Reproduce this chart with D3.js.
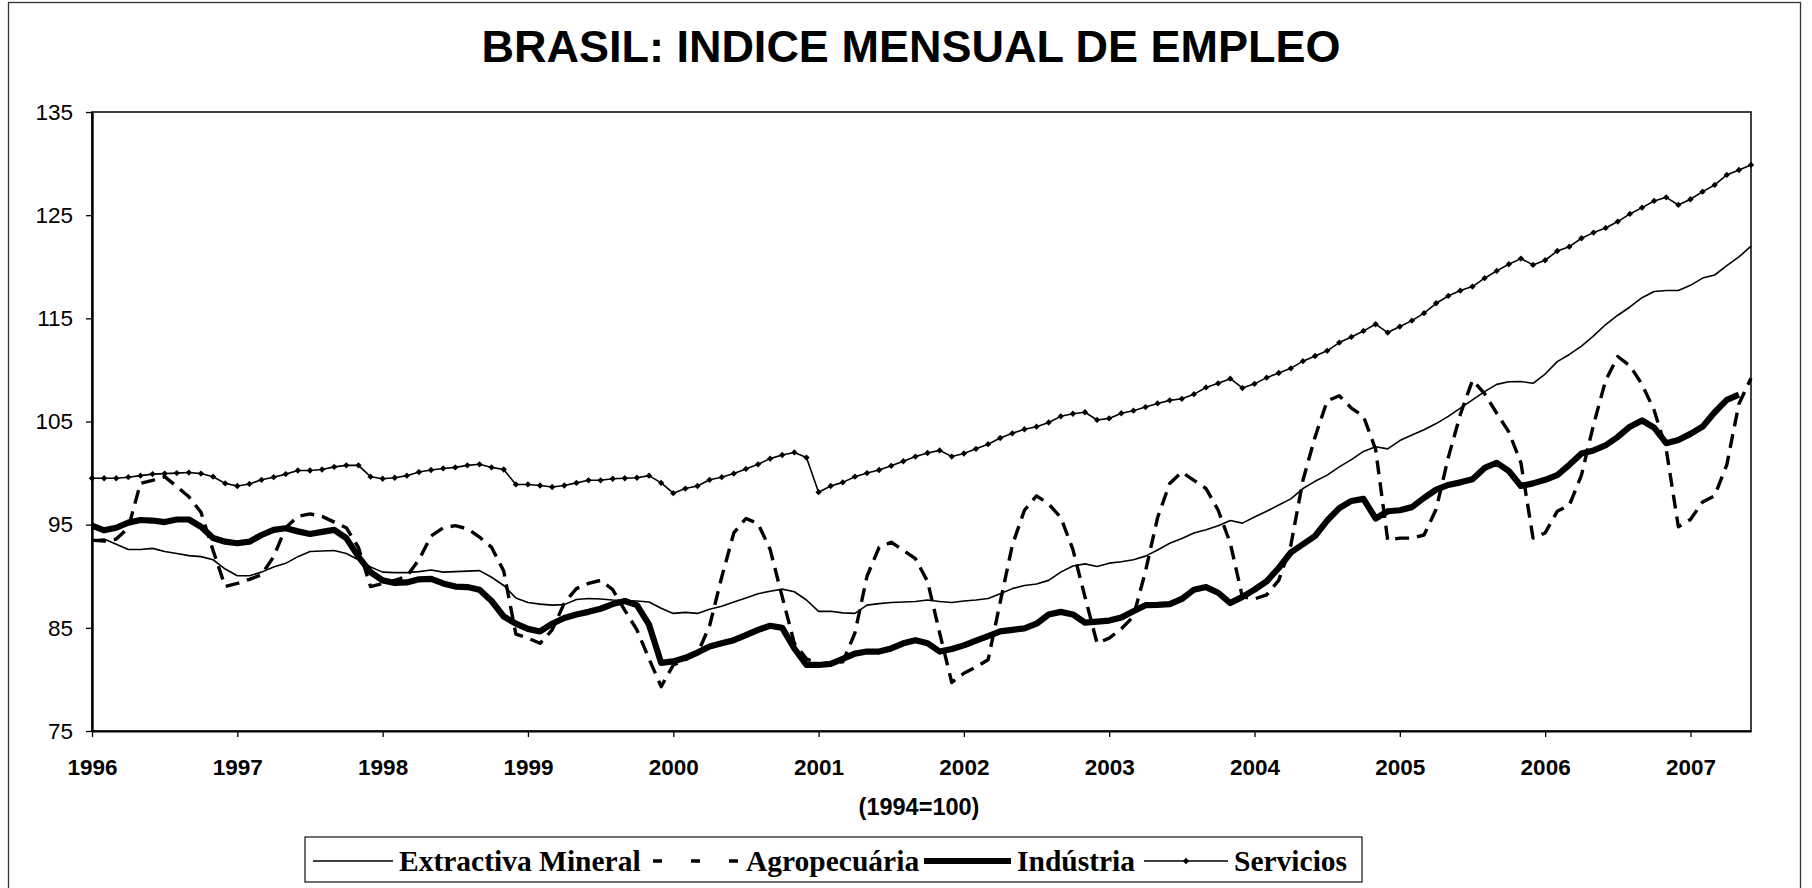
<!DOCTYPE html>
<html>
<head>
<meta charset="utf-8">
<script src="https://cdn.jsdelivr.net/npm/d3@7"></script>
<style>
  html, body { margin: 0; padding: 0; background: #fff; }
  svg { display: block; }
</style>
</head>
<body>
<svg id="chart" width="1812" height="888"></svg>
<script>
// ---------------- DATA (monthly, Jan 1996 - Jun 2007) ----------------
const titleText = "BRASIL: INDICE MENSUAL DE EMPLEO";
const subtitleText = "(1994=100)";
const yearLabels = ["1996","1997","1998","1999","2000","2001","2002","2003","2004","2005","2006","2007"];
const yTicks = [75, 85, 95, 105, 115, 125, 135];
const seriesNames = ["Extractiva Mineral", "Agropecuária", "Indústria", "Servicios"];

const extractiva = [
  93.5, 93.6, 93.1, 92.6, 92.6, 92.7, 92.4, 92.2, 92.0, 91.9, 91.6, 90.7,
  90.05, 90.05, 90.4, 90.9, 91.25, 91.9, 92.4, 92.45, 92.5, 92.2, 91.6, 90.9,
  90.4, 90.35, 90.35, 90.45, 90.6, 90.4, 90.45, 90.5, 90.55, 89.9, 89.1, 87.9,
  87.45, 87.3, 87.2, 87.25, 87.75, 87.85, 87.8, 87.7, 87.65, 87.6, 87.5, 86.9,
  86.4, 86.5, 86.4, 86.8, 87.1, 87.5, 87.9, 88.3, 88.55, 88.75, 88.5, 87.7,
  86.6, 86.6, 86.45, 86.4, 87.2, 87.35, 87.45, 87.5, 87.55, 87.7, 87.55, 87.45,
  87.6, 87.7, 87.85, 88.3, 88.8, 89.1, 89.25, 89.6, 90.4, 91.0, 91.2, 90.95,
  91.27, 91.4, 91.6, 91.95, 92.55, 93.2, 93.65, 94.2, 94.5, 94.9, 95.4, 95.15,
  95.75, 96.3, 96.9, 97.5, 98.5, 99.2, 99.8, 100.6, 101.3, 102.1, 102.55, 102.35,
  103.15, 103.7, 104.2, 104.8, 105.5, 106.3, 107.1, 107.9, 108.6, 108.85, 108.87, 108.7,
  109.6, 110.8, 111.5, 112.3, 113.3, 114.4, 115.3, 116.1, 117.0, 117.6, 117.7, 117.7,
  118.2, 118.9, 119.2, 120.1, 120.95, 122.0
];

const agropecuaria = [
  93.5, 93.4, 93.6, 94.7, 99.0, 99.3, 99.65, 98.7, 97.7, 96.2, 92.5, 89.0,
  89.3, 89.7, 90.15, 91.9, 94.7, 95.8, 96.05, 95.8, 95.25, 94.7, 92.8, 89.0,
  89.3, 89.6, 90.0, 91.6, 93.9, 94.7, 94.9, 94.6, 93.8, 92.8, 90.5, 84.4,
  84.0, 83.5, 84.8, 87.4, 88.8, 89.3, 89.6, 88.7, 86.7, 84.8, 82.0, 79.3,
  81.4, 81.9, 82.5, 85.2, 89.9, 94.2, 95.6, 95.1, 92.6, 88.0, 83.5, 82.0,
  81.5, 81.6, 81.7, 84.5, 90.0, 92.8, 93.3, 92.5, 91.7, 89.5, 84.5, 79.7,
  80.6, 81.2, 81.9, 87.5, 93.0, 96.4, 97.8, 97.0, 95.7, 92.6, 88.0, 83.5,
  84.0, 84.9, 86.1, 90.5, 95.7, 99.0, 100.1, 99.3, 98.5, 96.4, 93.2, 88.0,
  87.8, 88.2, 89.6, 93.0, 99.3, 103.5, 107.0, 107.5, 106.3, 105.5, 102.3, 93.5,
  93.7, 93.7, 94.0, 96.5, 101.5, 105.7, 109.0, 107.7, 105.8, 104.0, 101.0, 93.7,
  94.2, 96.3, 96.9, 99.8, 104.7, 109.0, 111.3, 110.4, 108.6, 106.1, 102.3, 94.8,
  95.5, 97.2, 97.8, 100.8, 106.7, 109.2
];

const industria = [
  94.9, 94.45, 94.7, 95.2, 95.45, 95.4, 95.25, 95.5, 95.5, 94.8, 93.7, 93.35,
  93.2, 93.35, 94.0, 94.5, 94.65, 94.35, 94.1, 94.3, 94.5, 93.7, 91.9, 90.4,
  89.6, 89.35, 89.4, 89.7, 89.75, 89.3, 89.0, 88.95, 88.7, 87.6, 86.1, 85.4,
  84.9, 84.65, 85.4, 85.95, 86.3, 86.55, 86.85, 87.3, 87.6, 87.2, 85.3, 81.6,
  81.75, 82.1, 82.6, 83.2, 83.5, 83.8, 84.3, 84.8, 85.2, 85.0, 83.0, 81.4,
  81.4, 81.5, 82.0, 82.5, 82.7, 82.7, 83.0, 83.5, 83.8, 83.5, 82.7, 82.95,
  83.3, 83.75, 84.2, 84.65, 84.8, 84.95, 85.4, 86.3, 86.55, 86.3, 85.5, 85.6,
  85.7, 86.0, 86.6, 87.2, 87.23, 87.3, 87.8, 88.7, 88.95, 88.4, 87.4, 88.0,
  88.7, 89.5, 90.8, 92.3, 93.1, 93.9, 95.4, 96.6, 97.3, 97.5, 95.6, 96.3,
  96.4, 96.7, 97.6, 98.4, 98.85, 99.1, 99.4, 100.5, 101.0, 100.2, 98.75, 99.0,
  99.35, 99.8, 100.8, 101.9, 102.2, 102.7, 103.5, 104.5, 105.1, 104.4, 102.9, 103.2,
  103.8, 104.5, 105.9, 107.1, 107.6
];

const servicios = [
  99.5, 99.5, 99.5, 99.6, 99.75, 99.9, 99.95, 100.0, 100.05, 99.95, 99.65, 99.0,
  98.75, 98.95, 99.35, 99.6, 99.9, 100.25, 100.25, 100.35, 100.6, 100.75, 100.75, 99.65,
  99.45, 99.55, 99.75, 100.1, 100.3, 100.45, 100.55, 100.75, 100.85, 100.55, 100.35, 98.9,
  98.9, 98.8, 98.65, 98.8, 99.05, 99.3, 99.3, 99.45, 99.5, 99.55, 99.75, 99.05,
  98.05, 98.5, 98.75, 99.35, 99.6, 99.95, 100.4, 100.85, 101.4, 101.75, 102.0, 101.5,
  98.15, 98.75, 99.1, 99.65, 100.0, 100.3, 100.7, 101.15, 101.6, 101.95, 102.2, 101.6,
  101.9, 102.35, 102.8, 103.4, 103.85, 104.25, 104.5, 104.9, 105.5, 105.75, 105.9, 105.15,
  105.3, 105.8, 106.05, 106.4, 106.75, 107.05, 107.2, 107.65, 108.3, 108.7, 109.15, 108.25,
  108.65, 109.25, 109.7, 110.15, 110.85, 111.35, 111.85, 112.65, 113.2, 113.78, 114.43, 113.62,
  114.2, 114.78, 115.5, 116.46, 117.17, 117.69, 118.08, 118.89, 119.6, 120.24, 120.79, 120.18,
  120.63, 121.53, 121.95, 122.76, 123.31, 123.76, 124.38, 125.12, 125.73, 126.38, 126.73, 125.99,
  126.54, 127.28, 127.93, 128.9, 129.38, 129.87
];

// ---------------- LAYOUT ----------------
const svg = d3.select("#chart");
const plot = { left: 92, right: 1751, top: 112, bottom: 731 };

const x = d3.scaleLinear().domain([0, servicios.length - 1]).range([plot.left, plot.right]);
const y = d3.scaleLinear().domain([75, 135]).range([plot.bottom, plot.top]);

// outer frame
svg.append("rect")
  .attr("x", 8.5).attr("y", 2.5).attr("width", 1792).attr("height", 900)
  .attr("fill", "none").attr("stroke", "#333").attr("stroke-width", 1.3);

// title
svg.append("text")
  .attr("x", 911).attr("y", 62)
  .attr("text-anchor", "middle")
  .attr("font-family", "'Liberation Sans', Arial, sans-serif")
  .attr("font-weight", "bold").attr("font-size", 45)
  .text(titleText);

// plot area frame
svg.append("rect")
  .attr("x", plot.left).attr("y", plot.top)
  .attr("width", plot.right - plot.left).attr("height", plot.bottom - plot.top)
  .attr("fill", "none").attr("stroke", "#111").attr("stroke-width", 1.6);

// axes
const yAxis = d3.axisLeft(y).tickValues(yTicks).tickSize(6).tickSizeOuter(0).tickPadding(13)
  .tickFormat(d3.format("d"));
const gy = svg.append("g").attr("transform", `translate(${plot.left},0)`).call(yAxis);
gy.select(".domain").attr("stroke", "#000").attr("stroke-width", 2.4);
gy.selectAll(".tick line").attr("stroke", "#000").attr("stroke-width", 1.3);
gy.selectAll(".tick text")
  .attr("font-family", "'Liberation Sans', Arial, sans-serif")
  .attr("font-size", 22.5).attr("fill", "#000");

const xAxis = d3.axisBottom(x)
  .tickValues(yearLabels.map((d, i) => i * 12))
  .tickFormat((d, i) => yearLabels[i])
  .tickSize(6).tickSizeOuter(0).tickPadding(22);
const gx = svg.append("g").attr("transform", `translate(0,${plot.bottom})`).call(xAxis);
gx.select(".domain").attr("stroke", "#000").attr("stroke-width", 2.2);
gx.selectAll(".tick line").attr("stroke", "#000").attr("stroke-width", 1.3);
gx.selectAll(".tick text")
  .attr("font-family", "'Liberation Sans', Arial, sans-serif")
  .attr("font-weight", "bold")
  .attr("font-size", 22.5).attr("fill", "#000");

// subtitle
svg.append("text")
  .attr("x", 919).attr("y", 815)
  .attr("text-anchor", "middle")
  .attr("font-family", "'Liberation Sans', Arial, sans-serif")
  .attr("font-weight", "bold").attr("font-size", 23.5)
  .text(subtitleText);

// series styles
const styles = [
  { data: extractiva,   width: 1.6, dash: null,   legDash: null,   marker: false },
  { data: agropecuaria, width: 3.4, dash: "14,8", legDash: "9,29", marker: false },
  { data: industria,    width: 6.2, dash: null,   legDash: null,   marker: false },
  { data: servicios,    width: 1.6, dash: null,   legDash: null,   marker: true }
];

const line = d3.line().x((d, i) => x(i)).y(d => y(d));
const plotG = svg.append("g");
styles.forEach(s => {
  plotG.append("path")
    .datum(s.data)
    .attr("d", line)
    .attr("fill", "none")
    .attr("stroke", "#000")
    .attr("stroke-width", s.width)
    .attr("stroke-linejoin", "round")
    .attr("stroke-dasharray", s.dash);
  if (s.marker) {
    const sym = d3.symbol().type(d3.symbolSquare).size(20);
    plotG.selectAll(null).data(s.data).enter().append("path")
      .attr("d", sym)
      .attr("transform", (d, i) => `translate(${x(i)},${y(d)}) rotate(45)`)
      .attr("fill", "#000");
  }
});

// legend
const legend = svg.append("g");
const legBox = { x: 305, y: 837, w: 1057, h: 45 };
legend.append("rect")
  .attr("x", legBox.x).attr("y", legBox.y).attr("width", legBox.w).attr("height", legBox.h)
  .attr("fill", "#fff").attr("stroke", "#222").attr("stroke-width", 1.3);
const legY = 861;
const sampleStart = [313, 653, 924, 1144];
const sampleLen = [80, 87, 87, 84];
styles.forEach((s, k) => {
  const x0 = sampleStart[k];
  legend.append("line")
    .attr("x1", x0).attr("x2", x0 + sampleLen[k])
    .attr("y1", legY).attr("y2", legY)
    .attr("stroke", "#000").attr("stroke-width", s.width)
    .attr("stroke-dasharray", s.legDash);
  if (s.marker) {
    legend.append("path")
      .attr("d", d3.symbol().type(d3.symbolSquare).size(20))
      .attr("transform", `translate(${x0 + sampleLen[k] / 2},${legY}) rotate(45)`)
      .attr("fill", "#000");
  }
  legend.append("text")
    .attr("x", x0 + sampleLen[k] + 6).attr("y", legY + 10)
    .attr("font-family", "'Liberation Serif', 'Times New Roman', serif")
    .attr("font-weight", "bold").attr("font-size", 29.5)
    .text(seriesNames[k]);
});
</script>
</body>
</html>
